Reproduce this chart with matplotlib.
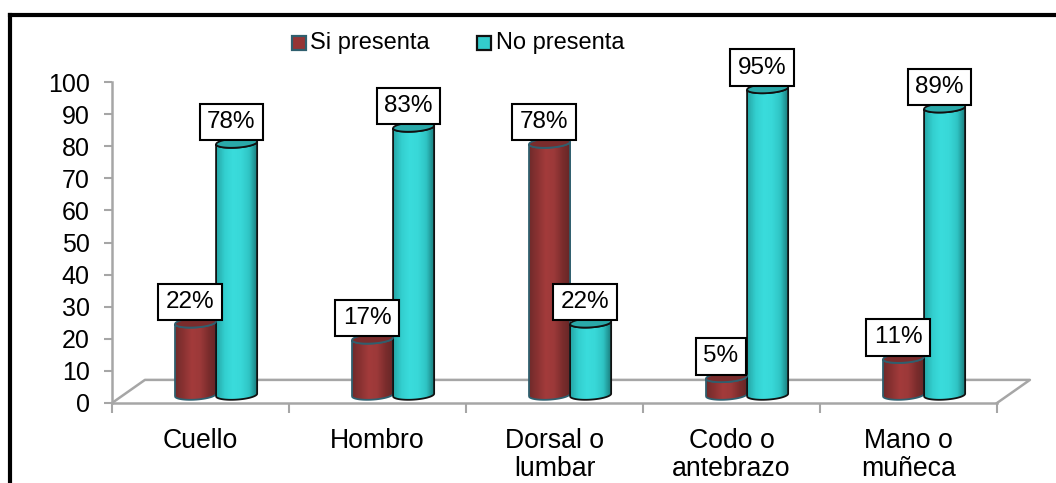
import matplotlib
matplotlib.use('Agg')
import matplotlib.pyplot as plt
from matplotlib.colors import LinearSegmentedColormap
from matplotlib.patches import PathPatch, Polygon, Rectangle
from matplotlib.path import Path
from matplotlib.lines import Line2D
import numpy as np

categories = ['Cuello', 'Hombro', 'Dorsal o\nlumbar', 'Codo o\nantebrazo', 'Mano o\nmuñeca']
si_presenta = [22, 17, 78, 5, 11]
no_presenta = [78, 83, 22, 95, 89]
y_ticks = list(range(0, 101, 10))

W, H = 1056, 483
plt.rcParams['font.family'] = ['Liberation Sans', 'DejaVu Sans']
plt.rcParams['text.kerning_factor'] = 6

RED = ['#702b2b', '#8a3232', '#a33b3b', '#9c3939', '#7c2d2d', '#642626']
CYAN = ['#25a5a5', '#33cfcf', '#3adcdc', '#38d8d8', '#2fc4c4', '#187878']


def ring(xc, yc, half_w, ry, t, tilt=0.4):
    # elipse un poco inclinada, sube hacia la derecha como en el original
    x = xc + half_w * np.cos(t)
    y = yc + ry * np.sin(t) + tilt * np.cos(t)
    return np.column_stack([x, y])


def cylinder(ax, x0, width, base, top, colors, edge, top_color):
    cmap = LinearSegmentedColormap.from_list('cyl', colors)
    ry = 1.45
    xc = x0 + width / 2
    t = np.linspace(np.pi, 2 * np.pi, 40)
    bottom = ring(xc, base, width / 2, ry, t)
    front = ring(xc, top, width / 2, ry, t[::-1])
    verts = np.vstack([bottom, front, bottom[:1]])
    path = Path(verts)
    img = ax.imshow(np.linspace(0, 1, 64).reshape(1, -1), cmap=cmap, aspect='auto',
                    extent=(x0, x0 + width, base - ry - 1, top + ry + 1), zorder=3)
    patch = PathPatch(path, facecolor='none', edgecolor='none', zorder=3)
    ax.add_patch(patch)
    img.set_clip_path(patch)
    ax.add_patch(PathPatch(path, facecolor='none', edgecolor=edge, lw=1.3, zorder=3.1))
    cap = ring(xc, top, width / 2, ry, np.linspace(0, 2 * np.pi, 80))
    ax.add_patch(Polygon(cap, closed=True, facecolor=top_color, edgecolor=edge, lw=1.3, zorder=3.2))


fig = plt.figure(figsize=(W / 100, H / 100), dpi=100, facecolor='white')
ax = fig.add_axes([112 / W, (H - 403) / H, 885 / W, 321 / H])
ax.set_xlim(0, 5)
ax.set_ylim(0, 100)

# marco negro: solo arriba e izquierda, el resto queda fuera del recorte
fig.add_artist(Line2D([10 / W, 10 / W], [0, (H - 15) / H], color='black', lw=3.0,
                      solid_capstyle='projecting'))
fig.add_artist(Line2D([10 / W, 1], [(H - 15) / H, (H - 15) / H], color='black', lw=3.0,
                      solid_capstyle='projecting'))

# piso 3D
dx, dy = 0.186, 7.2
grey = '#a6a6a6'
ax.plot([0, dx, 5 + dx, 5], [0, dy, dy, 0], color=grey, lw=1.8, clip_on=False, zorder=1)

for i in range(5):
    base = 2.5
    left = i + 0.356
    w = 0.232
    si_top = base + 0.5 + si_presenta[i]
    no_top = base + 0.5 + no_presenta[i]
    cylinder(ax, left, w, base, si_top, RED, '#2f5f6e', '#7a2c2c')
    cylinder(ax, left + w, w, base, no_top, CYAN, '#111111', '#2aa9a9')
    for val, x, top in ((si_presenta[i], left + w / 2, si_top), (no_presenta[i], left + 1.5 * w, no_top)):
        ax.annotate(f'{val}%', (x, top), xytext=(-4, 15), textcoords='offset points',
                    ha='center', va='center', fontsize=17.5, zorder=5, annotation_clip=False,
                    bbox=dict(boxstyle='square,pad=0.3', facecolor='white', edgecolor='black', lw=1.5))

ax.set_xticks(range(6))
ax.set_xticklabels([])
ax.set_xticks(np.arange(5) + 0.5, minor=True)
ax.set_xticklabels(categories, minor=True, fontsize=19.2, linespacing=1.12, color='black')
ax.tick_params(axis='x', which='major', length=7, width=1.5, color=grey)
ax.tick_params(axis='x', which='minor', length=0, pad=18)
ax.set_yticks(y_ticks)
ax.set_yticklabels(y_ticks, fontsize=18, color='black')
ax.tick_params(axis='y', length=6, width=1.5, color=grey, pad=10)
for side in ('top', 'right'):
    ax.spines[side].set_visible(False)
for side in ('left', 'bottom'):
    ax.spines[side].set_color(grey)
    ax.spines[side].set_linewidth(1.8)
ax.patch.set_alpha(0)

# leyenda
fig.add_artist(Rectangle((292 / W, (H - 50) / H), 14 / W, 14 / H, transform=fig.transFigure,
                         facecolor='#953535', edgecolor='#2f5f6e', lw=1.6))
fig.add_artist(Rectangle((477 / W, (H - 50) / H), 14 / W, 14 / H, transform=fig.transFigure,
                         facecolor='#33cccc', edgecolor='#111111', lw=1.6))
fig.text(310 / W, (H - 43) / H, 'Si presenta', fontsize=17, va='center', ha='left')
fig.text(496 / W, (H - 43) / H, 'No presenta', fontsize=17, va='center', ha='left')

fig.savefig('out.png', dpi=100)
plt.close(fig)
